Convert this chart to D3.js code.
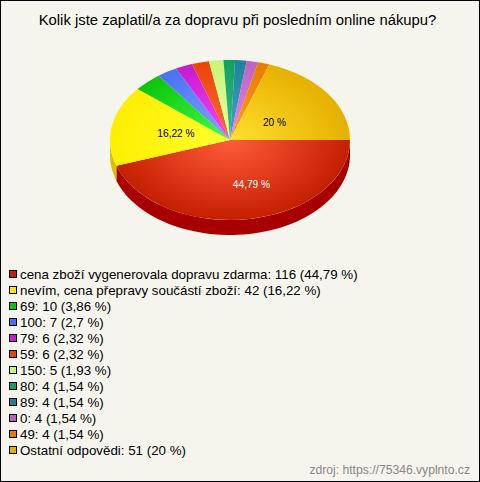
<!DOCTYPE html>
<html><head><meta charset="utf-8">
<script src="https://cdn.jsdelivr.net/npm/d3@7"></script>
<style>html,body{margin:0;padding:0;background:#f5f5ee}svg{display:block}</style>
</head><body><svg id="c" width="480" height="482"></svg>
<script>
const titleText = "Kolik jste zaplatil/a za dopravu při posledním online nákupu?";
const sourceText = "zdroj: https://75346.vyplnto.cz";
const categories = ["cena zboží vygenerovala dopravu zdarma","nevím, cena přepravy součástí zboží","69","100","79","59","150","80","89","0","49","Ostatní odpovědi"];
const counts = [116,42,10,7,6,6,5,4,4,4,4,51];
const percents = ["44,79","16,22","3,86","2,7","2,32","2,32","1,93","1,54","1,54","1,54","1,54","20"];
const edgeColors = ["#c41f00","#ffe600","#0cc40c","#4a70f5","#c41ccf","#e8450a","#c5f57a","#12a060","#20809c","#bb62c0","#e87a00","#e6b000"];
const rimColors = ["#c41f00","#ffee00","#0cc40c","#4a70f5","#c41ccf","#e8450a","#c5f57a","#12a060","#20809c","#bb62c0","#e87a00","#e6b000"];
const centerColors = ["#ff5c3c","#ffff30","#40ff40","#80a8ff","#ff40ff","#ff6a30","#f0ffa0","#30c088","#40a8c8","#e888f0","#ffa020","#ffe030"];
const sideColors = ["#a80000","#d8c000"];
const labelled = {0:"#ffffff",1:"#000000",11:"#000000"};

const W=480,H=482,cx=230,cy=140,rx=120,ry=80,depth=15;
const svg=d3.select("#c");
const defs=svg.append("defs");
svg.append("rect").attr("x",.5).attr("y",.5).attr("width",W-1).attr("height",H-1).attr("fill","#f5f5ee").attr("stroke","#000");

svg.append("text").attr("x",237.5).attr("y",25).attr("text-anchor","middle")
  .attr("font-family","Liberation Sans").attr("font-size",14.85).attr("fill","#000").text(titleText);

const pie=d3.pie().sort(null).startAngle(Math.PI/2).endAngle(Math.PI/2+2*Math.PI).value(d=>d);
const arcs=pie(counts);
const sy=ry/rx;
const arc=d3.arc().innerRadius(0).outerRadius(rx);

// side wall
const g3=svg.append("g");
const wall=(a0,a1,col)=>{
  const px=a=>cx+rx*Math.sin(a), py=a=>cy-ry*Math.cos(a);
  const path=d3.path();
  path.moveTo(px(a0),py(a0));
  const n=60;
  for(let i=1;i<=n;i++){const a=a0+(a1-a0)*i/n;path.lineTo(px(a),py(a));}
  for(let i=n;i>=0;i--){const a=a0+(a1-a0)*i/n;path.lineTo(px(a),py(a)+depth);}
  path.closePath();
  g3.append("path").attr("d",path.toString()).attr("fill",col);
};
wall(arcs[0].startAngle,arcs[0].endAngle,sideColors[0]);
wall(arcs[1].startAngle,Math.min(arcs[1].endAngle,Math.PI*1.5),sideColors[1]);

const topG=svg.append("g").attr("transform",`translate(${cx},${cy}) scale(1,${sy})`);
arcs.forEach((d,i)=>{
  const id="g"+i;
  const g=defs.append("radialGradient").attr("id",id).attr("gradientUnits","userSpaceOnUse")
    .attr("cx",0).attr("cy",0).attr("r",rx);
  g.append("stop").attr("offset",0).attr("stop-color",centerColors[i]);
  g.append("stop").attr("offset",1).attr("stop-color",rimColors[i]);
  topG.append("path").attr("d",arc(d)).attr("fill",`url(#${id})`);
});

const labelXY={0:[251.5,188],1:[176,137],11:[274.5,126]};
Object.keys(labelled).forEach(k=>{
  svg.append("text").attr("x",labelXY[k][0]).attr("y",labelXY[k][1]).attr("text-anchor","middle")
    .attr("font-family","Liberation Sans").attr("font-size",10.2).attr("fill",labelled[k]).text(percents[k]+" %");
});

const lg=svg.append("g");
categories.forEach((c,i)=>{
  const y=275+i*16;
  lg.append("rect").attr("x",9.5).attr("y",y-4.5).attr("width",7).attr("height",7)
    .attr("fill",edgeColors[i]).attr("stroke","#000");
  lg.append("text").attr("x",20).attr("y",y+4).attr("font-family","Liberation Sans").attr("font-size",13.33).attr("fill","#000")
    .text(`${c}: ${counts[i]} (${percents[i]} %)`);
});
svg.append("text").attr("x",470).attr("y",474).attr("text-anchor","end")
  .attr("font-family","Liberation Sans").attr("font-size",12.15).attr("fill","#888").text(sourceText);
</script></body></html>
